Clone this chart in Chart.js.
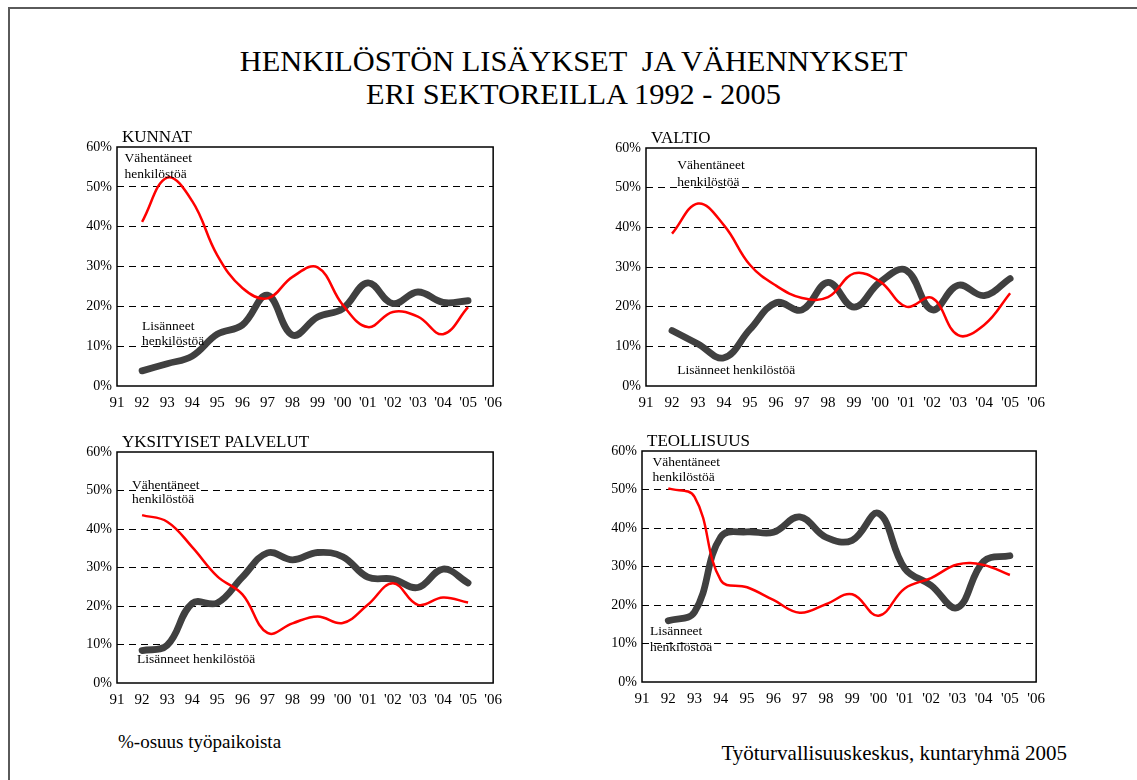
<!DOCTYPE html>
<html lang="fi">
<head>
  <meta charset="UTF-8">
  <title>Henkilöstön lisäykset ja vähennykset</title>
  <script src="https://cdn.jsdelivr.net/npm/chart.js"></script>
  <style>
    body {
      margin: 0;
      background: #fff;
      font-family: "Liberation Serif", "Times New Roman", serif;
      color: #000;
    }

    #page {
      position: relative;
      width: 1137px;
      height: 780px;
      overflow: hidden;
    }

    #frame {
      position: absolute;
      left: 8px;
      top: 7px;
      width: 1300px;
      height: 900px;
      border-left: 2px solid #5a5a5a;
      border-top: 2px solid #5a5a5a;
    }

    .main-title {
      position: absolute;
      left: 0;
      width: 1147px;
      text-align: center;
      font-size: 30.4px;
      line-height: 30px;
      white-space: pre;
    }

    .panel {
      position: absolute;
    }

    .note {
      position: absolute;
      white-space: nowrap;
    }
  </style>
</head>
<body>
<div id="page">
  <div id="frame"></div>
  <div class="main-title" style="top:46px">HENKILÖSTÖN LISÄYKSET  JA VÄHENNYKSET</div>
  <div class="main-title" style="top:79px">ERI SEKTOREILLA 1992 - 2005</div>

  <div class="panel" style="left:72px; top:125px"><canvas id="kunnat" width="438" height="291"></canvas></div>
  <div class="panel" style="left:601px; top:126px"><canvas id="valtio" width="452" height="290"></canvas></div>
  <div class="panel" style="left:72px; top:430px"><canvas id="palvelut" width="438" height="283"></canvas></div>
  <div class="panel" style="left:597px; top:429px"><canvas id="teollisuus" width="456" height="283"></canvas></div>

  <div class="note" style="left:118px; top:731px; font-size:19px">%-osuus työpaikoista</div>
  <div class="note" style="right:70px; top:741px; font-size:21px">Työturvallisuuskeskus, kuntaryhmä 2005</div>
</div>

<script>
// vuodet ja akselin tekstit
const years = [1992, 1993, 1994, 1995, 1996, 1997, 1998, 1999, 2000, 2001, 2002, 2003, 2004, 2005];
const xTickLabels = ["91", "92", "93", "94", "95", "96", "97", "98", "99", "'00", "'01", "'02", "'03", "'04", "'05", "'06"];
const yTicks = [0, 10, 20, 30, 40, 50, 60];

// vähentäneet (punainen) ja lisänneet (harmaa), % työpaikoista
const kunnatVah = [41.2, 52.3, 46.4, 32.8, 24.6, 22.0, 27.4, 29.8, 20.4, 14.8, 18.6, 17.4, 13.0, 19.8];
const kunnatLis = [3.8, 5.6, 7.5, 13.0, 15.3, 22.8, 12.8, 17.3, 19.4, 25.9, 20.7, 23.6, 21.0, 21.4];

const valtioVah = [38.4, 46.0, 40.5, 30.5, 25.3, 22.2, 22.4, 28.4, 26.3, 20.0, 22.2, 12.8, 15.4, 23.4];
const valtioLis = [14.0, 10.6, 7.1, 14.3, 21.0, 19.2, 26.1, 19.9, 26.2, 29.2, 19.2, 25.4, 22.8, 27.1];

const palvelutVah = [43.6, 41.9, 35.3, 27.7, 23.0, 13.0, 15.5, 17.3, 15.6, 20.3, 25.9, 20.3, 22.2, 20.9];
const palvelutLis = [8.4, 9.8, 20.7, 20.8, 27.5, 33.8, 32.0, 33.9, 32.8, 27.5, 27.0, 24.8, 29.6, 26.0];

const teolVah = [50.3, 48.1, 26.4, 24.6, 21.3, 18.0, 20.2, 22.8, 17.2, 24.3, 27.0, 30.5, 30.4, 27.8];
const teolLis = [15.9, 18.2, 37.7, 39.0, 38.9, 42.9, 37.6, 36.8, 43.8, 29.5, 25.1, 19.3, 31.3, 32.8];

const FONT = "'Liberation Serif', 'Times New Roman', serif";
Chart.defaults.font.family = FONT;
Chart.defaults.color = "#000";

// kehys, paneelin otsikko ja selitetekstit
const boxAndNotes = {
  id: "boxAndNotes",
  afterDraw(chart, args, opts) {
    const { ctx, chartArea: a, scales } = chart;
    ctx.save();
    ctx.strokeStyle = "#000";
    ctx.lineWidth = 1.5;
    ctx.strokeRect(a.left, a.top, a.right - a.left, a.bottom - a.top);
    ctx.fillStyle = "#000";
    ctx.font = "17px " + FONT;
    ctx.textAlign = "left";
    ctx.textBaseline = "alphabetic";
    ctx.fillText(opts.title, a.left + 5, a.top - 5);
    ctx.font = "13.5px " + FONT;
    ctx.textBaseline = "middle";
    opts.notes.forEach(n => {
      ctx.fillText(n.text, scales.x.getPixelForValue(n.x), scales.y.getPixelForValue(n.y));
    });
    ctx.restore();
  }
};

function points(values) {
  return values.map((v, i) => ({ x: years[i], y: v }));
}

function makeChart(id, title, vah, lis, notes) {
  new Chart(document.getElementById(id), {
    type: "line",
    data: {
      datasets: [
        {
          label: "Vähentäneet henkilöstöä",
          data: points(vah),
          borderColor: "#ff0000",
          borderWidth: 2.5,
          pointRadius: 0,
          tension: 0.4
        },
        {
          label: "Lisänneet henkilöstöä",
          data: points(lis),
          borderColor: "#404040",
          borderWidth: 6.8,
          borderCapStyle: "round",
          borderJoinStyle: "round",
          pointRadius: 0,
          tension: 0.4
        }
      ]
    },
    options: {
      responsive: false,
      animation: false,
      devicePixelRatio: 1,
      layout: { padding: { top: 22, right: 12, left: 0, bottom: 0 } },
      plugins: {
        legend: { display: false },
        tooltip: { enabled: false },
        boxAndNotes: { title: title, notes: notes }
      },
      scales: {
        x: {
          type: "linear",
          min: 1991,
          max: 2006,
          grid: { display: false, drawTicks: false },
          border: { display: false },
          ticks: {
            stepSize: 1,
            autoSkip: false,
            maxRotation: 0,
            padding: 8,
            font: { size: 15 },
            callback: v => xTickLabels[v - 1991]
          },
          afterFit: s => { s.height = 30; }
        },
        y: {
          min: 0,
          max: 60,
          grid: {
            drawTicks: false,
            lineWidth: 1,
            color: c => (c.tick.value === 0 || c.tick.value === 60) ? "rgba(0,0,0,0)" : "#000"
          },
          border: { display: false, dash: [7, 5] },
          afterBuildTicks: s => { s.ticks = yTicks.map(v => ({ value: v })); },
          ticks: {
            padding: 5,
            font: { size: 14 },
            callback: v => v + "%"
          },
          afterFit: s => { s.width = 45; }
        }
      }
    },
    plugins: [boxAndNotes]
  });
}

makeChart("kunnat", "KUNNAT", kunnatVah, kunnatLis, [
  { x: 1991.3, y: 57.0, text: "Vähentäneet" },
  { x: 1991.3, y: 53.1, text: "henkilöstöä" },
  { x: 1992.0, y: 14.9, text: "Lisänneet" },
  { x: 1992.0, y: 11.1, text: "henkilöstöä" }
]);

makeChart("valtio", "VALTIO", valtioVah, valtioLis, [
  { x: 1992.2, y: 55.5, text: "Vähentäneet" },
  { x: 1992.2, y: 51.4, text: "henkilöstöä" },
  { x: 1992.2, y: 4.0, text: "Lisänneet henkilöstöä" }
]);

makeChart("palvelut", "YKSITYISET PALVELUT", palvelutVah, palvelutLis, [
  { x: 1991.6, y: 51.4, text: "Vähentäneet" },
  { x: 1991.6, y: 47.7, text: "henkilöstöä" },
  { x: 1991.8, y: 6.0, text: "Lisänneet henkilöstöä" }
]);

makeChart("teollisuus", "TEOLLISUUS", teolVah, teolLis, [
  { x: 1991.4, y: 56.9, text: "Vähentäneet" },
  { x: 1991.4, y: 53.0, text: "henkilöstöä" },
  { x: 1991.3, y: 13.2, text: "Lisänneet" },
  { x: 1991.3, y: 9.0, text: "henkilöstöä" }
]);
</script>
</body>
</html>
